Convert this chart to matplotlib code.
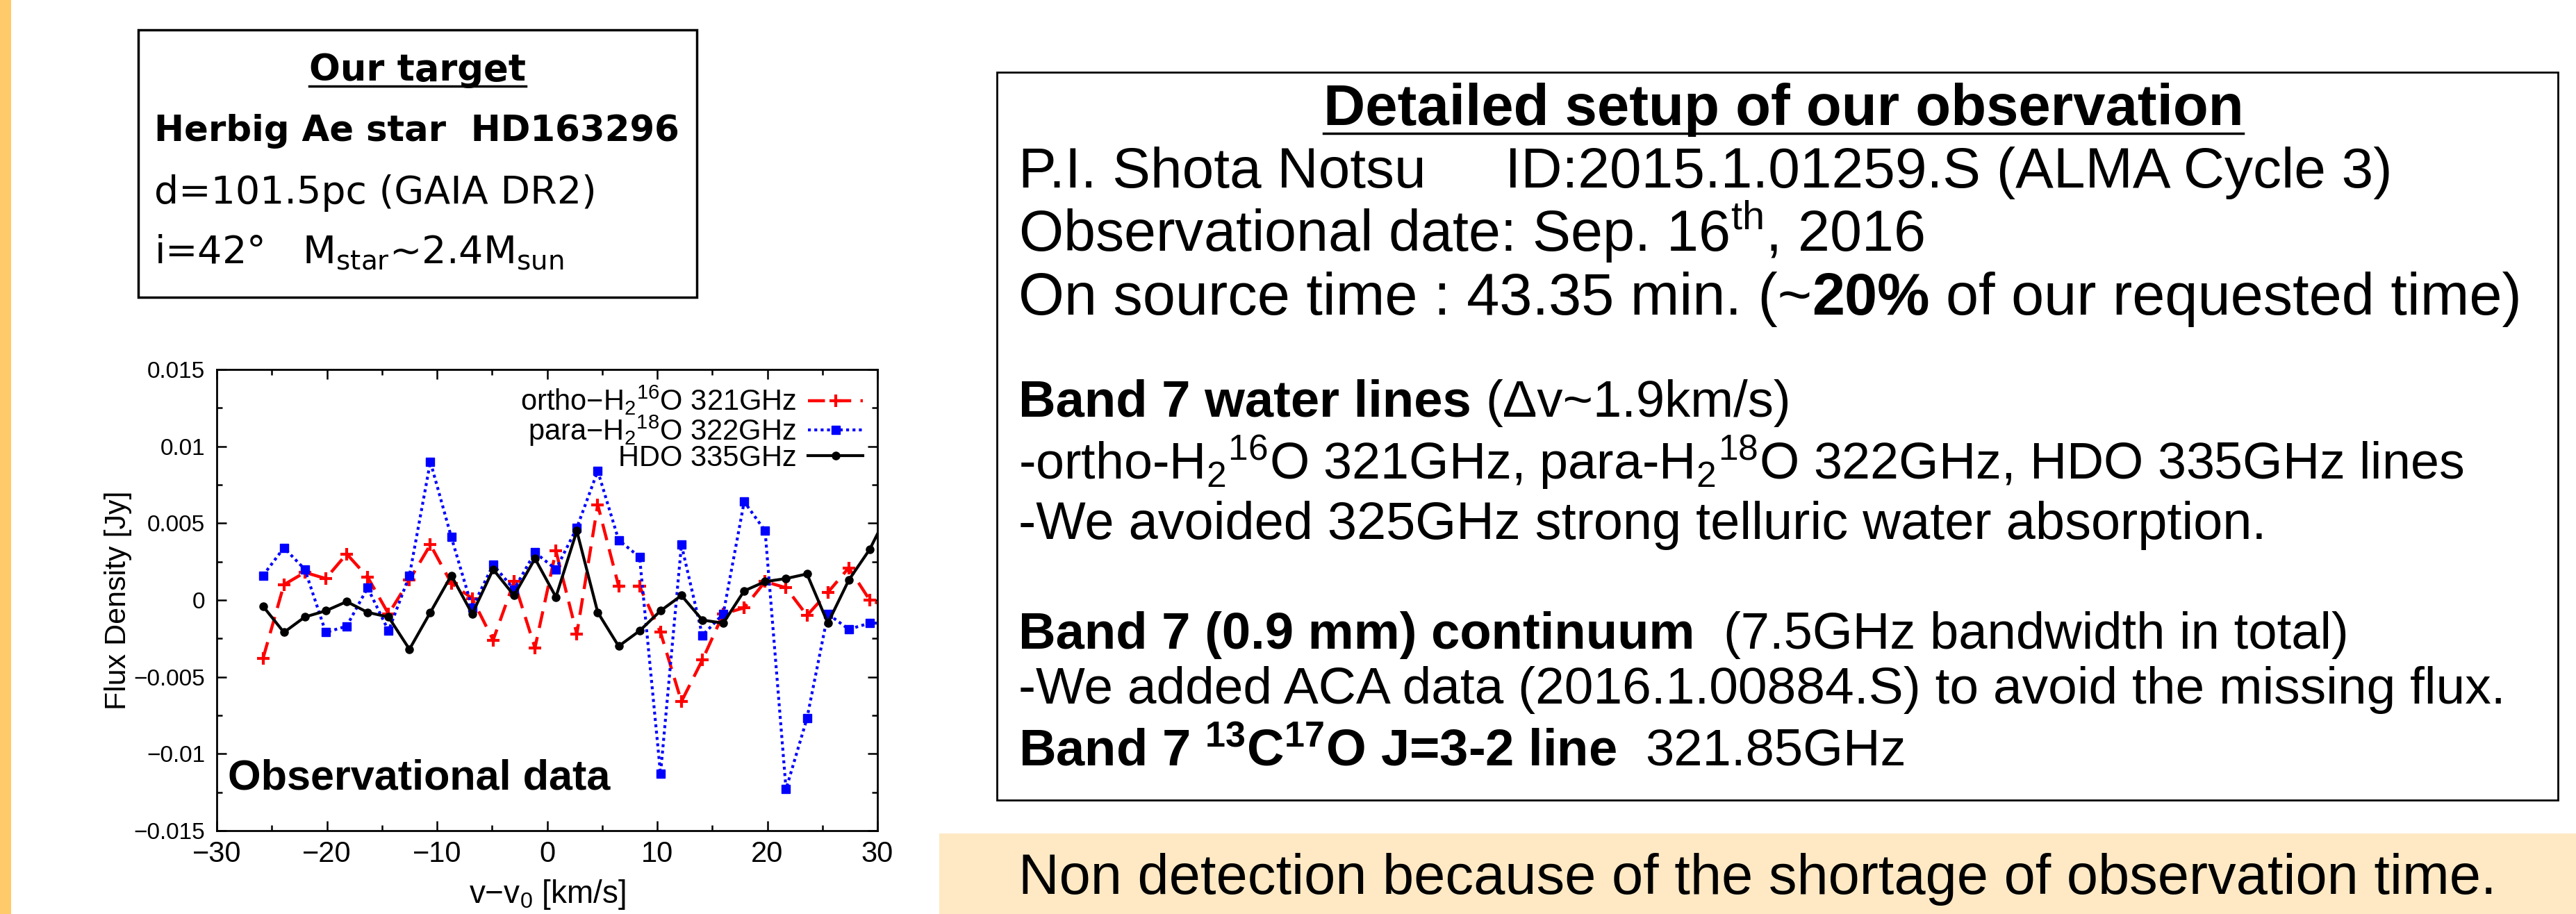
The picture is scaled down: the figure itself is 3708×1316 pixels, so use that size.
import matplotlib
matplotlib.use("Agg")
import matplotlib.pyplot as plt
from matplotlib.lines import Line2D
from matplotlib.patches import Rectangle
from matplotlib.ticker import FuncFormatter, MultipleLocator

W, H = 3708, 1316

# channel velocities [km/s] (1.9 km/s resolution)
velocity = [-25.8, -23.9, -22.0, -20.1, -18.2, -16.3, -14.4, -12.5, -10.6, -8.7,
            -6.8, -4.9, -3.0, -1.1, 0.8, 2.7, 4.6, 6.5, 8.4, 10.3,
            12.2, 14.1, 16.0, 17.9, 19.8, 21.7, 23.6, 25.5, 27.4, 29.3, 31.2]

ortho_h2_16o = [-0.0038, 0.0010, 0.0018, 0.0014, 0.0030, 0.0015, -0.0009, 0.0013, 0.0036, 0.0011,
                0.0001, -0.0026, 0.0012, -0.0031, 0.0032, -0.0022, 0.0062, 0.0009, 0.0009, -0.0021,
                -0.0066, -0.0039, -0.0009, -0.0005, 0.0012, 0.0008, -0.0010, 0.0005, 0.0021, 0.0000, -0.0005]

para_h2_18o = [0.0016, 0.0034, 0.0020, -0.0021, -0.0017, 0.0008, -0.0020, 0.0016, 0.0090, 0.0041,
               -0.0005, 0.0023, 0.0007, 0.0031, 0.0020, 0.0047, 0.0084, 0.0039, 0.0028, -0.0113,
               0.0036, -0.0023, -0.0009, 0.0064, 0.0045, -0.0123, -0.0077, -0.0009, -0.0019, -0.0015, -0.0015]

hdo = [-0.0004, -0.0021, -0.0011, -0.0007, -0.0001, -0.0008, -0.0011, -0.0032, -0.0008, 0.0016,
       -0.0009, 0.0020, 0.0003, 0.0027, 0.0002, 0.0045, -0.0008, -0.0030, -0.0020, -0.0007,
       0.0003, -0.0013, -0.0015, 0.0006, 0.0012, 0.0014, 0.0017, -0.0015, 0.0013, 0.0033, 0.0060]

series_labels = ["ortho\u2212H$_2$$^{16}$O 321GHz", "para\u2212H$_2$$^{18}$O 322GHz", "HDO 335GHz"]
x_ticks = [-30, -20, -10, 0, 10, 20, 30]
y_ticks = [-0.015, -0.01, -0.005, 0, 0.005, 0.01, 0.015]

target_title = "Our target"
target_lines = [("Herbig Ae star  HD163296", "bold", 37),
                ("d=101.5pc (GAIA DR2)", "normal", 40),
                ("i=42\u00b0   M$_{star}$~2.4M$_{sun}$", "normal", 40)]
target_baselines = [203, 293, 378]

setup_title = "Detailed setup of our observation"
setup_lines = [
    [("P.I. Shota Notsu     ID:2015.1.01259.S (ALMA Cycle 3)", "normal")],
    [("Observational date: Sep. 16$^{th}$, 2016", "normal")],
    [("On source time : 43.35 min. (~", "normal"), ("20%", "bold"), (" of our requested time)", "normal")],
    [("Band 7 water lines", "bold"), (" (\u0394v~1.9km/s)", "normal")],
    [("-ortho-H$_2$$^{16}$O 321GHz, para-H$_2$$^{18}$O 322GHz, HDO 335GHz lines", "normal")],
    [("-We avoided 325GHz strong telluric water absorption.", "normal")],
    [("Band 7 (0.9 mm) continuum", "bold"), ("  (7.5GHz bandwidth in total)", "normal")],
    [("-We added ACA data (2016.1.00884.S) to avoid the missing flux.", "normal")],
    [("Band 7 $^{13}$C$^{17}$O J=3-2 line", "bold"), ("  321.85GHz", "normal")],
]
setup_sizes = [59, 59.5, 61, 53.5, 53, 54.5, 53.5, 54, 53.5]
setup_baselines = [270, 362, 453, 600, 690, 776, 934, 1013, 1102]

banner_text = "Non detection because of the shortage of observation time."

plt.rcParams['mathtext.default'] = 'regular'
SANS = 'Liberation Sans'

fig = plt.figure(figsize=(W / 100, H / 100), dpi=100, facecolor='white')
renderer = fig.canvas.get_renderer()


def fx(px):
    return px / W


def fy(py):
    return 1 - py / H


def space_width(size, weight, family):
    a = fig.text(0, 0, "x x", fontsize=size, fontweight=weight, family=family)
    b = fig.text(0, 0, "xx", fontsize=size, fontweight=weight, family=family)
    w = a.get_window_extent(renderer).width - b.get_window_extent(renderer).width
    a.remove()
    b.remove()
    return w


def rich_line(x, y, parts, size, family):
    # consecutive text pieces of mixed weight on one baseline
    for text, weight in parts:
        sp = space_width(size, weight, family)
        lead = len(text) - len(text.lstrip(' '))
        trail = len(text) - len(text.rstrip(' '))
        x += lead * sp
        t = fig.text(fx(x), fy(y), text.strip(' '), fontsize=size, fontweight=weight,
                     family=family, va='baseline', ha='left')
        x = t.get_window_extent(renderer).x1 + trail * sp


def underlined_title(xc, y, text, size, family):
    t = fig.text(fx(xc), fy(y), text, fontsize=size, fontweight='bold', family=family,
                 va='baseline', ha='center')
    bb = t.get_window_extent(renderer)
    uy = y + size * 0.2
    fig.add_artist(Line2D([fx(bb.x0), fx(bb.x1)], [fy(uy), fy(uy)], color='black', lw=2.5))


# background decorations
fig.add_artist(Rectangle((0, 0), fx(16), 1, transform=fig.transFigure, fc='#FFCA69', ec='none'))
fig.add_artist(Rectangle((fx(1352), fy(1316)), fx(3708 - 1352), (1316 - 1200) / H,
                         transform=fig.transFigure, fc='#FEE9C4', ec='none'))

# target box
fig.add_artist(Rectangle((fx(199), fy(428)), fx(1003 - 199), (428 - 43) / H,
                         transform=fig.transFigure, fill=False, ec='black', lw=2.5))
underlined_title(601, 116, target_title, 38, 'DejaVu Sans')
for (text, weight, size), yb in zip(target_lines, target_baselines):
    rich_line(222, yb, [(text, weight)], size, 'DejaVu Sans')

# setup box
fig.add_artist(Rectangle((fx(1435), fy(1152)), fx(3682 - 1435), (1152 - 104) / H,
                         transform=fig.transFigure, fill=False, ec='black', lw=2))
underlined_title(2567, 180, setup_title, 60, SANS)
for parts, size, yb in zip(setup_lines, setup_sizes, setup_baselines):
    rich_line(1466, yb, parts, size, SANS)

fig.text(fx(2530), fy(1287), banner_text, fontsize=58.5, family=SANS, ha='center', va='baseline')

# spectrum panel
ax = fig.add_axes([fx(312), fy(1196), (1263 - 312) / W, (1196 - 532) / H])
ax.plot(velocity, ortho_h2_16o, color='red', lw=3.2, dashes=(5.5, 3),
        marker='+', ms=13, mew=3, label=series_labels[0])
ax.plot(velocity, para_h2_18o, color='blue', lw=3, dashes=(1, 1.2),
        marker='s', ms=9, label=series_labels[1])
ax.plot(velocity, hdo, color='black', lw=3, marker='o', ms=8, label=series_labels[2])

ax.set_xlim(-30, 30)
ax.set_ylim(-0.015, 0.015)
ax.set_xticks(x_ticks)
ax.set_yticks(y_ticks)
ax.xaxis.set_minor_locator(MultipleLocator(5))
ax.yaxis.set_minor_locator(MultipleLocator(0.0025))
fmt = FuncFormatter(lambda v, p: ('%g' % v).replace('-', '\u2212'))
ax.xaxis.set_major_formatter(fmt)
ax.yaxis.set_major_formatter(fmt)
ax.tick_params(which='both', direction='in', top=True, right=True, width=1.8)
ax.tick_params(axis='y', labelsize=24, pad=12)
ax.tick_params(axis='x', labelsize=30, pad=10)
ax.tick_params(which='major', length=10)
ax.tick_params(which='minor', length=6)
for lab in ax.get_xticklabels() + ax.get_yticklabels():
    lab.set_family(SANS)
for s in ax.spines.values():
    s.set_linewidth(2)

ax.set_xlabel("v\u2212v$_0$ [km/s]", fontsize=33, family=SANS, labelpad=10)
ax.set_ylabel("Flux Density [Jy]", fontsize=31, family=SANS, labelpad=2)

ax.legend(loc='upper right', frameon=False, markerfirst=False, numpoints=1,
          prop={'family': SANS, 'size': 30}, handlelength=1.9, handletextpad=0.4,
          labelspacing=-0.12, borderaxespad=0.2, borderpad=0.3)

ax.text(-29, -0.0123, "Observational data", fontsize=44, fontweight='bold',
        family=SANS, va='baseline', ha='left')

fig.savefig("out.png", dpi=100, facecolor='white')
